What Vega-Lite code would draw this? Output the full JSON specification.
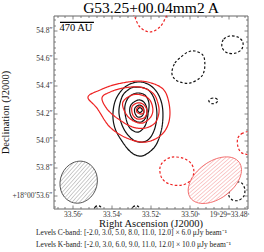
{
"$schema": "https://vega.github.io/schema/vega-lite/v6.json",
"width": 194, "height": 193,
"autosize": "none",
"padding": {"left": 53.5, "top": 15.5, "right": 16.5, "bottom": 43.5},
"background": "white",
"config": {"view": {"stroke": null}},
"title": {"text": ["Levels C-band: [-2.0, 3.0, 5.0, 8.0, 11.0, 12.0] × 6.0 μJy beam⁻¹", "Levels K-band: [-2.0, 3.0, 6.0, 9.0, 11.0, 12.0] × 10.0 μJy beam⁻¹"], "orient": "bottom", "anchor": "start", "frame": "group", "dx": -17.5, "offset": 0, "baseline": "top", "font": "Liberation Serif", "fontSize": 7.5, "fontWeight": "normal", "color": "#222", "lineHeight": 11.6},
"datasets": {
"contours": [
{"id":"B1","band":"K","sign":"pos","i":0,"ra":33.52711,"dec":54.42556},
{"id":"B1","band":"K","sign":"pos","i":1,"ra":33.52148,"dec":54.41095},
{"id":"B1","band":"K","sign":"pos","i":2,"ra":33.51688,"dec":54.35256},
{"id":"B1","band":"K","sign":"pos","i":3,"ra":33.51432,"dec":54.26497},
{"id":"B1","band":"K","sign":"pos","i":4,"ra":33.51381,"dec":54.16279},
{"id":"B1","band":"K","sign":"pos","i":5,"ra":33.51483,"dec":54.06060},
{"id":"B1","band":"K","sign":"pos","i":6,"ra":33.51739,"dec":53.96572},
{"id":"B1","band":"K","sign":"pos","i":7,"ra":33.52148,"dec":53.90733},
{"id":"B1","band":"K","sign":"pos","i":8,"ra":33.52558,"dec":53.88543},
{"id":"B1","band":"K","sign":"pos","i":9,"ra":33.53018,"dec":53.91462},
{"id":"B1","band":"K","sign":"pos","i":10,"ra":33.53478,"dec":53.99491},
{"id":"B1","band":"K","sign":"pos","i":11,"ra":33.53836,"dec":54.08980},
{"id":"B1","band":"K","sign":"pos","i":12,"ra":33.53939,"dec":54.19198},
{"id":"B1","band":"K","sign":"pos","i":13,"ra":33.53785,"dec":54.30147},
{"id":"B1","band":"K","sign":"pos","i":14,"ra":33.53325,"dec":54.38905},
{"id":"B2","band":"K","sign":"pos","i":0,"ra":33.52813,"dec":54.38905},
{"id":"B2","band":"K","sign":"pos","i":1,"ra":33.52200,"dec":54.37446},
{"id":"B2","band":"K","sign":"pos","i":2,"ra":33.51841,"dec":54.30877},
{"id":"B2","band":"K","sign":"pos","i":3,"ra":33.51688,"dec":54.19928},
{"id":"B2","band":"K","sign":"pos","i":4,"ra":33.51790,"dec":54.08980},
{"id":"B2","band":"K","sign":"pos","i":5,"ra":33.52097,"dec":54.00951},
{"id":"B2","band":"K","sign":"pos","i":6,"ra":33.52558,"dec":53.98761},
{"id":"B2","band":"K","sign":"pos","i":7,"ra":33.53018,"dec":54.01681},
{"id":"B2","band":"K","sign":"pos","i":8,"ra":33.53427,"dec":54.09710},
{"id":"B2","band":"K","sign":"pos","i":9,"ra":33.53632,"dec":54.20658},
{"id":"B2","band":"K","sign":"pos","i":10,"ra":33.53478,"dec":54.31606},
{"id":"B2","band":"K","sign":"pos","i":11,"ra":33.53171,"dec":54.36716},
{"id":"B3","band":"K","sign":"pos","i":0,"ra":33.52711,"dec":54.34526},
{"id":"B3","band":"K","sign":"pos","i":1,"ra":33.52302,"dec":54.33066},
{"id":"B3","band":"K","sign":"pos","i":2,"ra":33.52097,"dec":54.27227},
{"id":"B3","band":"K","sign":"pos","i":3,"ra":33.52148,"dec":54.18469},
{"id":"B3","band":"K","sign":"pos","i":4,"ra":33.52302,"dec":54.10440},
{"id":"B3","band":"K","sign":"pos","i":5,"ra":33.52660,"dec":54.06060},
{"id":"B3","band":"K","sign":"pos","i":6,"ra":33.53069,"dec":54.08980},
{"id":"B3","band":"K","sign":"pos","i":7,"ra":33.53274,"dec":54.16279},
{"id":"B3","band":"K","sign":"pos","i":8,"ra":33.53325,"dec":54.25038},
{"id":"B3","band":"K","sign":"pos","i":9,"ra":33.53120,"dec":54.31606},
{"id":"B4","band":"K","sign":"pos","i":0,"ra":33.52660,"dec":54.29417},
{"id":"B4","band":"K","sign":"pos","i":1,"ra":33.52353,"dec":54.27957},
{"id":"B4","band":"K","sign":"pos","i":2,"ra":33.52200,"dec":54.22848},
{"id":"B4","band":"K","sign":"pos","i":3,"ra":33.52251,"dec":54.17009},
{"id":"B4","band":"K","sign":"pos","i":4,"ra":33.52506,"dec":54.13359},
{"id":"B4","band":"K","sign":"pos","i":5,"ra":33.52864,"dec":54.14819},
{"id":"B4","band":"K","sign":"pos","i":6,"ra":33.53069,"dec":54.19928},
{"id":"B4","band":"K","sign":"pos","i":7,"ra":33.53018,"dec":54.25767},
{"id":"B5","band":"K","sign":"pos","i":0,"ra":33.52609,"dec":54.25767},
{"id":"B5","band":"K","sign":"pos","i":1,"ra":33.52404,"dec":54.24308},
{"id":"B5","band":"K","sign":"pos","i":2,"ra":33.52353,"dec":54.20658},
{"id":"B5","band":"K","sign":"pos","i":3,"ra":33.52455,"dec":54.17739},
{"id":"B5","band":"K","sign":"pos","i":4,"ra":33.52660,"dec":54.17009},
{"id":"B5","band":"K","sign":"pos","i":5,"ra":33.52813,"dec":54.19928},
{"id":"B5","band":"K","sign":"pos","i":6,"ra":33.52813,"dec":54.23578},
{"id":"B6","band":"K","sign":"pos","i":0,"ra":33.52558,"dec":54.23943},
{"id":"B6","band":"K","sign":"pos","i":1,"ra":33.52430,"dec":54.22118},
{"id":"B6","band":"K","sign":"pos","i":2,"ra":33.52558,"dec":54.20293},
{"id":"B6","band":"K","sign":"pos","i":3,"ra":33.52685,"dec":54.22118},
{"id":"R1","band":"C","sign":"pos","i":0,"ra":33.55217,"dec":54.31606},
{"id":"R1","band":"C","sign":"pos","i":1,"ra":33.54604,"dec":54.36716},
{"id":"R1","band":"C","sign":"pos","i":2,"ra":33.53734,"dec":54.41095},
{"id":"R1","band":"C","sign":"pos","i":3,"ra":33.52558,"dec":54.43286},
{"id":"R1","band":"C","sign":"pos","i":4,"ra":33.51688,"dec":54.40365},
{"id":"R1","band":"C","sign":"pos","i":5,"ra":33.51228,"dec":54.34526},
{"id":"R1","band":"C","sign":"pos","i":6,"ra":33.51023,"dec":54.22118},
{"id":"R1","band":"C","sign":"pos","i":7,"ra":33.51125,"dec":54.11170},
{"id":"R1","band":"C","sign":"pos","i":8,"ra":33.51535,"dec":54.03141},
{"id":"R1","band":"C","sign":"pos","i":9,"ra":33.52302,"dec":53.98761},
{"id":"R1","band":"C","sign":"pos","i":10,"ra":33.53223,"dec":54.01681},
{"id":"R1","band":"C","sign":"pos","i":11,"ra":33.54092,"dec":54.09710},
{"id":"R1","band":"C","sign":"pos","i":12,"ra":33.54757,"dec":54.23578},
{"id":"R2","band":"C","sign":"pos","i":0,"ra":33.54501,"dec":54.30877},
{"id":"R2","band":"C","sign":"pos","i":1,"ra":33.54092,"dec":54.35256},
{"id":"R2","band":"C","sign":"pos","i":2,"ra":33.53427,"dec":54.38175},
{"id":"R2","band":"C","sign":"pos","i":3,"ra":33.52558,"dec":54.38905},
{"id":"R2","band":"C","sign":"pos","i":4,"ra":33.51893,"dec":54.34526},
{"id":"R2","band":"C","sign":"pos","i":5,"ra":33.51637,"dec":54.27227},
{"id":"R2","band":"C","sign":"pos","i":6,"ra":33.51586,"dec":54.19928},
{"id":"R2","band":"C","sign":"pos","i":7,"ra":33.51790,"dec":54.12629},
{"id":"R2","band":"C","sign":"pos","i":8,"ra":33.52302,"dec":54.08980},
{"id":"R2","band":"C","sign":"pos","i":9,"ra":33.52916,"dec":54.09710},
{"id":"R2","band":"C","sign":"pos","i":10,"ra":33.53581,"dec":54.14819},
{"id":"R2","band":"C","sign":"pos","i":11,"ra":33.54194,"dec":54.22118},
{"id":"R3","band":"C","sign":"pos","i":0,"ra":33.53427,"dec":54.27957},
{"id":"R3","band":"C","sign":"pos","i":1,"ra":33.52967,"dec":54.33066},
{"id":"R3","band":"C","sign":"pos","i":2,"ra":33.52455,"dec":54.33066},
{"id":"R3","band":"C","sign":"pos","i":3,"ra":33.52046,"dec":54.29417},
{"id":"R3","band":"C","sign":"pos","i":4,"ra":33.51893,"dec":54.22118},
{"id":"R3","band":"C","sign":"pos","i":5,"ra":33.52046,"dec":54.16279},
{"id":"R3","band":"C","sign":"pos","i":6,"ra":33.52455,"dec":54.12629},
{"id":"R3","band":"C","sign":"pos","i":7,"ra":33.52967,"dec":54.14819},
{"id":"R3","band":"C","sign":"pos","i":8,"ra":33.53325,"dec":54.20658},
{"id":"R4","band":"C","sign":"pos","i":0,"ra":33.52967,"dec":54.24308},
{"id":"R4","band":"C","sign":"pos","i":1,"ra":33.52711,"dec":54.27227},
{"id":"R4","band":"C","sign":"pos","i":2,"ra":33.52404,"dec":54.26497},
{"id":"R4","band":"C","sign":"pos","i":3,"ra":33.52200,"dec":54.22118},
{"id":"R4","band":"C","sign":"pos","i":4,"ra":33.52302,"dec":54.17009},
{"id":"R4","band":"C","sign":"pos","i":5,"ra":33.52660,"dec":54.15549},
{"id":"R4","band":"C","sign":"pos","i":6,"ra":33.52916,"dec":54.18469},
{"id":"R5","band":"C","sign":"pos","i":0,"ra":33.52558,"dec":54.25038},
{"id":"R5","band":"C","sign":"pos","i":1,"ra":33.52404,"dec":54.23578},
{"id":"R5","band":"C","sign":"pos","i":2,"ra":33.52353,"dec":54.20658},
{"id":"R5","band":"C","sign":"pos","i":3,"ra":33.52506,"dec":54.19198},
{"id":"R5","band":"C","sign":"pos","i":4,"ra":33.52711,"dec":54.20658},
{"id":"R5","band":"C","sign":"pos","i":5,"ra":33.52711,"dec":54.23578},
{"id":"RD1","band":"C","sign":"neg","i":0,"ra":33.52916,"dec":54.95109},
{"id":"RD1","band":"C","sign":"neg","i":1,"ra":33.52813,"dec":54.89999},
{"id":"RD1","band":"C","sign":"neg","i":2,"ra":33.52558,"dec":54.82701},
{"id":"RD1","band":"C","sign":"neg","i":3,"ra":33.52046,"dec":54.79051},
{"id":"RD1","band":"C","sign":"neg","i":4,"ra":33.51535,"dec":54.82701},
{"id":"RD1","band":"C","sign":"neg","i":5,"ra":33.51228,"dec":54.89999},
{"id":"RD1","band":"C","sign":"neg","i":6,"ra":33.51125,"dec":54.95109},
{"id":"RD1","band":"C","sign":"neg","i":7,"ra":33.52046,"dec":54.98759},
{"id":"RD2","band":"C","sign":"neg","i":0,"ra":33.46829,"dec":54.06060},
{"id":"RD2","band":"C","sign":"neg","i":1,"ra":33.47289,"dec":54.05330},
{"id":"RD2","band":"C","sign":"neg","i":2,"ra":33.47545,"dec":54.01681},
{"id":"RD2","band":"C","sign":"neg","i":3,"ra":33.47545,"dec":53.95842},
{"id":"RD2","band":"C","sign":"neg","i":4,"ra":33.47391,"dec":53.91462},
{"id":"RD2","band":"C","sign":"neg","i":5,"ra":33.47136,"dec":53.90003},
{"id":"RD2","band":"C","sign":"neg","i":6,"ra":33.46829,"dec":53.90003},
{"id":"RD2","band":"C","sign":"neg","i":7,"ra":33.46522,"dec":53.98031},
{"id":"RD3","band":"C","sign":"neg","i":0,"ra":33.51535,"dec":53.79784},
{"id":"RD3","band":"C","sign":"neg","i":1,"ra":33.51330,"dec":53.84893},
{"id":"RD3","band":"C","sign":"neg","i":2,"ra":33.50921,"dec":53.87813},
{"id":"RD3","band":"C","sign":"neg","i":3,"ra":33.50358,"dec":53.87083},
{"id":"RD3","band":"C","sign":"neg","i":4,"ra":33.49949,"dec":53.83434},
{"id":"RD3","band":"C","sign":"neg","i":5,"ra":33.49795,"dec":53.77594},
{"id":"RD3","band":"C","sign":"neg","i":6,"ra":33.49949,"dec":53.71025},
{"id":"RD3","band":"C","sign":"neg","i":7,"ra":33.50409,"dec":53.67375},
{"id":"RD3","band":"C","sign":"neg","i":8,"ra":33.51023,"dec":53.68105},
{"id":"RD3","band":"C","sign":"neg","i":9,"ra":33.51432,"dec":53.72485},
{"id":"BD1","band":"K","sign":"neg","i":0,"ra":33.50921,"dec":54.49855},
{"id":"BD1","band":"K","sign":"neg","i":1,"ra":33.50767,"dec":54.56424},
{"id":"BD1","band":"K","sign":"neg","i":2,"ra":33.50460,"dec":54.60803},
{"id":"BD1","band":"K","sign":"neg","i":3,"ra":33.50102,"dec":54.64453},
{"id":"BD1","band":"K","sign":"neg","i":4,"ra":33.49744,"dec":54.65183},
{"id":"BD1","band":"K","sign":"neg","i":5,"ra":33.49335,"dec":54.62263},
{"id":"BD1","band":"K","sign":"neg","i":6,"ra":33.49233,"dec":54.56424},
{"id":"BD1","band":"K","sign":"neg","i":7,"ra":33.49284,"dec":54.49855},
{"id":"BD1","band":"K","sign":"neg","i":8,"ra":33.49489,"dec":54.45475},
{"id":"BD1","band":"K","sign":"neg","i":9,"ra":33.50000,"dec":54.41826},
{"id":"BD1","band":"K","sign":"neg","i":10,"ra":33.50512,"dec":54.42556},
{"id":"BD1","band":"K","sign":"neg","i":11,"ra":33.50818,"dec":54.45475},
{"id":"BD2","band":"K","sign":"neg","i":0,"ra":33.48363,"dec":54.70292},
{"id":"BD2","band":"K","sign":"neg","i":1,"ra":33.48261,"dec":54.73942},
{"id":"BD2","band":"K","sign":"neg","i":2,"ra":33.47954,"dec":54.76132},
{"id":"BD2","band":"K","sign":"neg","i":3,"ra":33.47545,"dec":54.75402},
{"id":"BD2","band":"K","sign":"neg","i":4,"ra":33.47289,"dec":54.71752},
{"id":"BD2","band":"K","sign":"neg","i":5,"ra":33.47340,"dec":54.66643},
{"id":"BD2","band":"K","sign":"neg","i":6,"ra":33.47647,"dec":54.63723},
{"id":"BD2","band":"K","sign":"neg","i":7,"ra":33.48056,"dec":54.63723},
{"id":"BD2","band":"K","sign":"neg","i":8,"ra":33.48312,"dec":54.66643},
{"id":"BD3","band":"K","sign":"neg","i":0,"ra":33.49028,"dec":54.28687},
{"id":"BD3","band":"K","sign":"neg","i":1,"ra":33.48926,"dec":54.30512},
{"id":"BD3","band":"K","sign":"neg","i":2,"ra":33.48721,"dec":54.30877},
{"id":"BD3","band":"K","sign":"neg","i":3,"ra":33.48568,"dec":54.29417},
{"id":"BD3","band":"K","sign":"neg","i":4,"ra":33.48670,"dec":54.27227},
{"id":"BD3","band":"K","sign":"neg","i":5,"ra":33.48875,"dec":54.26862},
{"id":"BD4","band":"K","sign":"neg","i":0,"ra":33.47852,"dec":53.66645},
{"id":"BD4","band":"K","sign":"neg","i":1,"ra":33.47596,"dec":53.69565},
{"id":"BD4","band":"K","sign":"neg","i":2,"ra":33.47340,"dec":53.68835},
{"id":"BD4","band":"K","sign":"neg","i":3,"ra":33.47187,"dec":53.64455},
{"id":"BD4","band":"K","sign":"neg","i":4,"ra":33.47238,"dec":53.59346},
{"id":"BD4","band":"K","sign":"neg","i":5,"ra":33.47494,"dec":53.56423},
{"id":"BD4","band":"K","sign":"neg","i":6,"ra":33.47801,"dec":53.56423},
{"id":"BD4","band":"K","sign":"neg","i":7,"ra":33.48005,"dec":53.60073},
{"id":"BD5","band":"K","sign":"neg","i":0,"ra":33.54911,"dec":53.47667},
{"id":"BD5","band":"K","sign":"neg","i":1,"ra":33.54859,"dec":53.51317},
{"id":"BD5","band":"K","sign":"neg","i":2,"ra":33.54706,"dec":53.52411},
{"id":"BD5","band":"K","sign":"neg","i":3,"ra":33.54552,"dec":53.51317},
{"id":"BD5","band":"K","sign":"neg","i":4,"ra":33.54501,"dec":53.47667},
{"id":"BD5","band":"K","sign":"neg","i":5,"ra":33.54706,"dec":53.44744},
{"id":"BD6","band":"K","sign":"neg","i":0,"ra":33.53018,"dec":53.47667},
{"id":"BD6","band":"K","sign":"neg","i":1,"ra":33.52916,"dec":53.51317},
{"id":"BD6","band":"K","sign":"neg","i":2,"ra":33.52762,"dec":53.52411},
{"id":"BD6","band":"K","sign":"neg","i":3,"ra":33.52609,"dec":53.51317},
{"id":"BD6","band":"K","sign":"neg","i":4,"ra":33.52558,"dec":53.47667},
{"id":"BD6","band":"K","sign":"neg","i":5,"ra":33.52762,"dec":53.44744}
],
"beams": [
{"id":"G","i":0,"ra":33.54737,"dec":53.69565},
{"id":"G","i":1,"ra":33.54781,"dec":53.75430},
{"id":"G","i":2,"ra":33.54964,"dec":53.80401},
{"id":"G","i":3,"ra":33.55257,"dec":53.83722},
{"id":"G","i":4,"ra":33.55618,"dec":53.84893},
{"id":"G","i":5,"ra":33.55990,"dec":53.83722},
{"id":"G","i":6,"ra":33.56316,"dec":53.80401},
{"id":"G","i":7,"ra":33.56548,"dec":53.75430},
{"id":"G","i":8,"ra":33.56650,"dec":53.69565},
{"id":"G","i":9,"ra":33.56606,"dec":53.63693},
{"id":"G","i":10,"ra":33.56423,"dec":53.58722},
{"id":"G","i":11,"ra":33.56129,"dec":53.55401},
{"id":"G","i":12,"ra":33.55768,"dec":53.54233},
{"id":"G","i":13,"ra":33.55396,"dec":53.55401},
{"id":"G","i":14,"ra":33.55070,"dec":53.58722},
{"id":"G","i":15,"ra":33.54838,"dec":53.63693},
{"id":"R","i":0,"ra":33.47476,"dec":53.84072},
{"id":"R","i":1,"ra":33.47785,"dec":53.87247},
{"id":"R","i":2,"ra":33.48237,"dec":53.87941},
{"id":"R","i":3,"ra":33.48762,"dec":53.86080},
{"id":"R","i":4,"ra":33.49281,"dec":53.81905},
{"id":"R","i":5,"ra":33.49716,"dec":53.76080},
{"id":"R","i":6,"ra":33.49997,"dec":53.69489},
{"id":"R","i":7,"ra":33.50086,"dec":53.63131},
{"id":"R","i":8,"ra":33.49966,"dec":53.57971},
{"id":"R","i":9,"ra":33.49657,"dec":53.54795},
{"id":"R","i":10,"ra":33.49206,"dec":53.54102},
{"id":"R","i":11,"ra":33.48680,"dec":53.55963},
{"id":"R","i":12,"ra":33.48161,"dec":53.60138},
{"id":"R","i":13,"ra":33.47727,"dec":53.65963},
{"id":"R","i":14,"ra":33.47445,"dec":53.72554},
{"id":"R","i":15,"ra":33.47357,"dec":53.78912}
],
"bar": [{"ra":33.56650,"ra2":33.54911,"dec":54.86131}],
"barlabel": [{"ra":33.56675,"dec":54.79781,"label":"470 AU"}]
},
"layer": [
{
"encoding": {
"x": {"field":"ra","type":"quantitative","scale":{"domain":[33.47049,33.56982],"reverse":true,"nice":false,"zero":false},
 "axis": {"orient":"bottom","grid":false,"domain":true,"domainColor":"#666","domainWidth":1,"tickColor":"#666","tickWidth":0.8,
  "values":[33.472,33.476,33.48,33.484,33.488,33.492,33.496,33.5,33.504,33.508,33.512,33.516,33.52,33.524,33.528,33.532,33.536,33.54,33.544,33.548,33.552,33.556,33.56,33.564,33.568],
  "tickSize":{"condition":{"test":"abs(datum.value*50-round(datum.value*50))<0.01","value":-3.5},"value":-2},
  "labelExpr":"abs(datum.value*50-round(datum.value*50))<0.01 ? (abs(datum.value-33.48)<0.001 ? '19ʰ29ᵐ33.48ˢ' : format(datum.value,'.2f')+'ˢ') : ''",
  "labelFont":"Liberation Serif","labelFontSize":7.5,"labelColor":"#333","labelPadding":5.5,"labelFlush":false,"labelOverlap":false,"labelBound":false,
  "title":"Right Ascension (J2000)","titleFont":"Liberation Serif","titleFontSize":10.5,"titleFontWeight":"normal","titleColor":"#111","titleY":18,"titleBaseline":"alphabetic"}},
"y": {"field":"dec","type":"quantitative","scale":{"domain":[53.50364,54.91095],"nice":false,"zero":false},
 "axis": {"orient":"left","grid":false,"domain":true,"domainColor":"#666","domainWidth":1,"tickColor":"#666","tickWidth":0.8,
  "values":[53.52,53.56,53.6,53.64,53.68,53.72,53.76,53.8,53.84,53.88,53.92,53.96,54.0,54.04,54.08,54.12,54.16,54.2,54.24,54.28,54.32,54.36,54.4,54.44,54.48,54.52,54.56,54.6,54.64,54.68,54.72,54.76,54.8,54.84,54.88],
  "tickSize":{"condition":{"test":"abs(datum.value*5-round(datum.value*5))<0.01","value":-3.5},"value":-2},
  "labelExpr":"abs(datum.value*5-round(datum.value*5))<0.01 ? (abs(datum.value-53.6)<0.001 ? '+18°00′53.6″' : format(datum.value,'.1f')+'″') : ''",
  "labelFont":"Liberation Serif","labelFontSize":7.5,"labelColor":"#333","labelPadding":5,"labelFlush":false,"labelOverlap":false,"labelBound":false,
  "title":"Declination (J2000)","titleFont":"Liberation Serif","titleFontSize":10.5,"titleFontWeight":"normal","titleColor":"#111","titleX":-45,"titleBaseline":"alphabetic"}}
},
"layer": [
{"data":{"name":"contours"},
 "mark":{"type":"line","interpolate":"cardinal-closed","strokeWidth":1.2,"clip":true},
 "encoding":{
  "detail":{"field":"id"},
  "order":{"field":"i","type":"quantitative"},
  "color":{"field":"band","type":"nominal","scale":{"domain":["K","C"],"range":["#111111","#ee2222"]},"legend":null},
  "strokeDash":{"field":"sign","type":"nominal","scale":{"domain":["pos","neg"],"range":[[1,0],[2.5,2]]},"legend":null}
 }},
{"data":{"name":"beams"},"transform":[{"filter":"datum.id === 'G'"}],
 "mark":{"type":"line","interpolate":"cardinal-closed","stroke":"#444444","strokeWidth":0.9,"clip":true,
  "fill":{"gradient":"linear","x1":0,"y1":0,"x2":1,"y2":1,"stops":[
{"offset":0,"color":"#c4c4c4"},{"offset":0.015,"color":"#ffffff"},{"offset":0.035,"color":"#ffffff"},
{"offset":0.05,"color":"#c4c4c4"},{"offset":0.065,"color":"#ffffff"},{"offset":0.085,"color":"#ffffff"},
{"offset":0.1,"color":"#c4c4c4"},{"offset":0.115,"color":"#ffffff"},{"offset":0.135,"color":"#ffffff"},
{"offset":0.15,"color":"#c4c4c4"},{"offset":0.165,"color":"#ffffff"},{"offset":0.185,"color":"#ffffff"},
{"offset":0.2,"color":"#c4c4c4"},{"offset":0.215,"color":"#ffffff"},{"offset":0.235,"color":"#ffffff"},
{"offset":0.25,"color":"#c4c4c4"},{"offset":0.265,"color":"#ffffff"},{"offset":0.285,"color":"#ffffff"},
{"offset":0.3,"color":"#c4c4c4"},{"offset":0.315,"color":"#ffffff"},{"offset":0.335,"color":"#ffffff"},
{"offset":0.35,"color":"#c4c4c4"},{"offset":0.365,"color":"#ffffff"},{"offset":0.385,"color":"#ffffff"},
{"offset":0.4,"color":"#c4c4c4"},{"offset":0.415,"color":"#ffffff"},{"offset":0.435,"color":"#ffffff"},
{"offset":0.45,"color":"#c4c4c4"},{"offset":0.465,"color":"#ffffff"},{"offset":0.485,"color":"#ffffff"},
{"offset":0.5,"color":"#c4c4c4"},{"offset":0.515,"color":"#ffffff"},{"offset":0.535,"color":"#ffffff"},
{"offset":0.55,"color":"#c4c4c4"},{"offset":0.565,"color":"#ffffff"},{"offset":0.585,"color":"#ffffff"},
{"offset":0.6,"color":"#c4c4c4"},{"offset":0.615,"color":"#ffffff"},{"offset":0.635,"color":"#ffffff"},
{"offset":0.65,"color":"#c4c4c4"},{"offset":0.665,"color":"#ffffff"},{"offset":0.685,"color":"#ffffff"},
{"offset":0.7,"color":"#c4c4c4"},{"offset":0.715,"color":"#ffffff"},{"offset":0.735,"color":"#ffffff"},
{"offset":0.75,"color":"#c4c4c4"},{"offset":0.765,"color":"#ffffff"},{"offset":0.785,"color":"#ffffff"},
{"offset":0.8,"color":"#c4c4c4"},{"offset":0.815,"color":"#ffffff"},{"offset":0.835,"color":"#ffffff"},
{"offset":0.85,"color":"#c4c4c4"},{"offset":0.865,"color":"#ffffff"},{"offset":0.885,"color":"#ffffff"},
{"offset":0.9,"color":"#c4c4c4"},{"offset":0.915,"color":"#ffffff"},{"offset":0.935,"color":"#ffffff"},
{"offset":0.95,"color":"#c4c4c4"},{"offset":0.965,"color":"#ffffff"},{"offset":0.985,"color":"#ffffff"},
{"offset":1,"color":"#c4c4c4"}]}},
 "encoding":{"order":{"field":"i","type":"quantitative"}}},
{"data":{"name":"beams"},"transform":[{"filter":"datum.id === 'R'"}],
 "mark":{"type":"line","interpolate":"cardinal-closed","stroke":"#f06060","strokeWidth":0.9,"clip":true,
  "fill":{"gradient":"linear","x1":0,"y1":0,"x2":1,"y2":1,"stops":[
{"offset":0,"color":"#f9c2c2"},{"offset":0.012,"color":"#ffffff"},{"offset":0.028,"color":"#ffffff"},
{"offset":0.04,"color":"#f9c2c2"},{"offset":0.052,"color":"#ffffff"},{"offset":0.068,"color":"#ffffff"},
{"offset":0.08,"color":"#f9c2c2"},{"offset":0.092,"color":"#ffffff"},{"offset":0.108,"color":"#ffffff"},
{"offset":0.12,"color":"#f9c2c2"},{"offset":0.132,"color":"#ffffff"},{"offset":0.148,"color":"#ffffff"},
{"offset":0.16,"color":"#f9c2c2"},{"offset":0.172,"color":"#ffffff"},{"offset":0.188,"color":"#ffffff"},
{"offset":0.2,"color":"#f9c2c2"},{"offset":0.212,"color":"#ffffff"},{"offset":0.228,"color":"#ffffff"},
{"offset":0.24,"color":"#f9c2c2"},{"offset":0.252,"color":"#ffffff"},{"offset":0.268,"color":"#ffffff"},
{"offset":0.28,"color":"#f9c2c2"},{"offset":0.292,"color":"#ffffff"},{"offset":0.308,"color":"#ffffff"},
{"offset":0.32,"color":"#f9c2c2"},{"offset":0.332,"color":"#ffffff"},{"offset":0.348,"color":"#ffffff"},
{"offset":0.36,"color":"#f9c2c2"},{"offset":0.372,"color":"#ffffff"},{"offset":0.388,"color":"#ffffff"},
{"offset":0.4,"color":"#f9c2c2"},{"offset":0.412,"color":"#ffffff"},{"offset":0.428,"color":"#ffffff"},
{"offset":0.44,"color":"#f9c2c2"},{"offset":0.452,"color":"#ffffff"},{"offset":0.468,"color":"#ffffff"},
{"offset":0.48,"color":"#f9c2c2"},{"offset":0.492,"color":"#ffffff"},{"offset":0.508,"color":"#ffffff"},
{"offset":0.52,"color":"#f9c2c2"},{"offset":0.532,"color":"#ffffff"},{"offset":0.548,"color":"#ffffff"},
{"offset":0.56,"color":"#f9c2c2"},{"offset":0.572,"color":"#ffffff"},{"offset":0.588,"color":"#ffffff"},
{"offset":0.6,"color":"#f9c2c2"},{"offset":0.612,"color":"#ffffff"},{"offset":0.628,"color":"#ffffff"},
{"offset":0.64,"color":"#f9c2c2"},{"offset":0.652,"color":"#ffffff"},{"offset":0.668,"color":"#ffffff"},
{"offset":0.68,"color":"#f9c2c2"},{"offset":0.692,"color":"#ffffff"},{"offset":0.708,"color":"#ffffff"},
{"offset":0.72,"color":"#f9c2c2"},{"offset":0.732,"color":"#ffffff"},{"offset":0.748,"color":"#ffffff"},
{"offset":0.76,"color":"#f9c2c2"},{"offset":0.772,"color":"#ffffff"},{"offset":0.788,"color":"#ffffff"},
{"offset":0.8,"color":"#f9c2c2"},{"offset":0.812,"color":"#ffffff"},{"offset":0.828,"color":"#ffffff"},
{"offset":0.84,"color":"#f9c2c2"},{"offset":0.852,"color":"#ffffff"},{"offset":0.868,"color":"#ffffff"},
{"offset":0.88,"color":"#f9c2c2"},{"offset":0.892,"color":"#ffffff"},{"offset":0.908,"color":"#ffffff"},
{"offset":0.92,"color":"#f9c2c2"},{"offset":0.932,"color":"#ffffff"},{"offset":0.948,"color":"#ffffff"},
{"offset":0.96,"color":"#f9c2c2"},{"offset":0.972,"color":"#ffffff"},{"offset":0.988,"color":"#ffffff"},
{"offset":1,"color":"#f9c2c2"}]}},
 "encoding":{"order":{"field":"i","type":"quantitative"}}},
{"data":{"name":"bar"},
 "mark":{"type":"rule","color":"#000000","strokeWidth":1.3},
 "encoding":{"x2":{"field":"ra2"}}},
{"data":{"name":"barlabel"},
 "mark":{"type":"text","align":"left","baseline":"alphabetic","font":"Liberation Serif","fontSize":10.5,"color":"#000000"},
 "encoding":{"text":{"field":"label"}}}
]
},
{
"data":{"name":"bar"},
"mark":{"type":"point","opacity":0},
"encoding":{
"x": {"field":"ra","type":"quantitative","scale":{"domain":[33.47049,33.56982],"reverse":true,"nice":false,"zero":false},
 "axis": {"orient":"top","grid":false,"domain":true,"domainColor":"#666","domainWidth":1,"tickColor":"#666","tickWidth":0.8,"labels":false,
  "values":[33.472,33.476,33.48,33.484,33.488,33.492,33.496,33.5,33.504,33.508,33.512,33.516,33.52,33.524,33.528,33.532,33.536,33.54,33.544,33.548,33.552,33.556,33.56,33.564,33.568],
  "tickSize":{"condition":{"test":"abs(datum.value*50-round(datum.value*50))<0.01","value":-3.5},"value":-2},
  "title":"G53.25+00.04mm2 A","titleFont":"Liberation Serif","titleFontSize":15.5,"titleFontWeight":"normal","titleColor":"#000","titleY":-2.8,"titleBaseline":"alphabetic"}},
"y": {"field":"dec","type":"quantitative","scale":{"domain":[53.50364,54.91095],"nice":false,"zero":false},
 "axis": {"orient":"right","grid":false,"domain":true,"domainColor":"#666","domainWidth":1,"tickColor":"#666","tickWidth":0.8,"labels":false,
  "values":[53.52,53.56,53.6,53.64,53.68,53.72,53.76,53.8,53.84,53.88,53.92,53.96,54.0,54.04,54.08,54.12,54.16,54.2,54.24,54.28,54.32,54.36,54.4,54.44,54.48,54.52,54.56,54.6,54.64,54.68,54.72,54.76,54.8,54.84,54.88],
  "tickSize":{"condition":{"test":"abs(datum.value*5-round(datum.value*5))<0.01","value":-3.5},"value":-2},
  "title":null}}
}
}
],
"resolve": {"axis": {"x":"independent","y":"independent"}}
}
